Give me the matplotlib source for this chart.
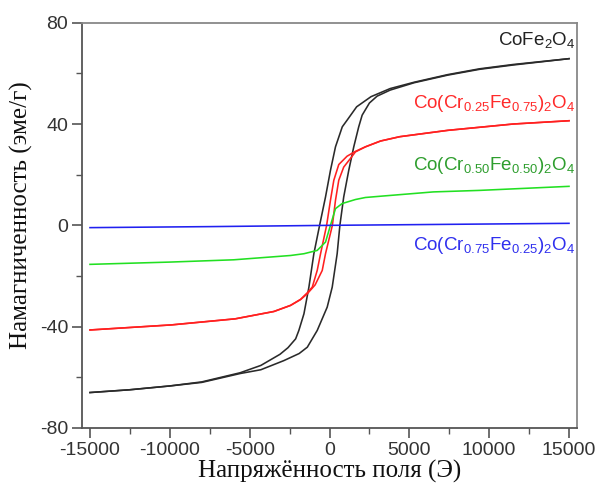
import matplotlib
matplotlib.use("Agg")
import matplotlib.pyplot as plt

# ---------------- data ----------------
# CoFe2O4, descending branch (from +15000 to -15000)
cofe_desc_h = [15000, 11500, 9400, 7400, 5300, 3800, 2600, 1700, 1100, 800, 375, 60,
               -250, -620, -980, -1290, -1600, -1920, -2120, -2600, -3100, -4300,
               -5600, -8000, -10000, -12500, -15000]
cofe_desc_m = [65.8, 63.5, 61.8, 59.5, 56.5, 54.0, 50.8, 46.8, 41.5, 38.9, 31.0, 21.7,
               11.2, 0.0, -11.2, -24.4, -34.9, -41.5, -44.8, -48.3, -50.9, -55.3,
               -58.2, -61.8, -63.4, -64.9, -66.0]
# CoFe2O4, ascending branch (from -15000 to +15000)
cofe_asc_h = [-15000, -12500, -10000, -8000, -5600, -4300, -2860, -1900, -1390, -770,
              -145, 170, 480, 650, 890, 1205, 1520, 1830, 2045, 2500, 2980, 3800,
              5300, 7400, 9400, 11500, 15000]
cofe_asc_m = [-66.0, -64.9, -63.4, -62.0, -58.5, -57.0, -53.4, -50.6, -48.1, -41.5,
              -32.3, -24.4, -11.2, 0.0, 11.2, 21.7, 31.0, 38.9, 43.5, 48.3, 51.0, 53.4,
              56.3, 59.3, 61.6, 63.3, 65.8]

# Co(Cr0.25Fe0.75)2O4
cr25_desc_h = [15000, 11500, 7400, 4400, 3200, 2250, 1625, 1100, 580, 270, 60, -180,
               -560, -770, -1080, -1390, -1810, -2440, -3480, -5900, -9900, -15000]
cr25_desc_m = [41.3, 40.0, 37.5, 35.0, 33.3, 31.0, 29.2, 27.3, 24.0, 17.8, 9.9, 0.0,
               -11.2, -17.8, -24.4, -26.6, -29.2, -31.6, -34.0, -36.9, -39.3, -41.3]
cr25_asc_h = [-15000, -9900, -5900, -3480, -2440, -1810, -1390, -900, -455, -250, 180,
              375, 580, 890, 1310, 1625, 2250, 3200, 4400, 7400, 11500, 15000]
cr25_asc_m = [-41.3, -39.3, -36.9, -34.0, -31.6, -29.3, -27.0, -23.5, -17.8, -11.2, 0.0,
              9.9, 17.8, 23.0, 26.4, 29.0, 31.0, 33.3, 35.0, 37.5, 40.0, 41.3]

# Co(Cr0.50Fe0.50)2O4
cr50_h = [-15000, -10000, -6000, -2440, -1600, -770, -250, 60, 375, 790, 1625, 2250,
          3200, 6500, 9400, 15000]
cr50_m = [-15.4, -14.5, -13.6, -11.9, -11.2, -9.9, -6.6, 0.0, 6.6, 8.6, 10.2, 11.0,
          11.5, 13.2, 13.8, 15.4]

# Co(Cr0.75Fe0.25)2O4
cr75_h = [-15000, -7500, 0, 7500, 15000]
cr75_m = [-0.9, -0.5, 0.0, 0.4, 0.8]

x_ticks = [-15000, -10000, -5000, 0, 5000, 10000, 15000]
y_ticks = [-80, -40, 0, 40, 80]

labels = ["CoFe$_2$O$_4$",
          "Co(Cr$_{0.25}$Fe$_{0.75}$)$_2$O$_4$",
          "Co(Cr$_{0.50}$Fe$_{0.50}$)$_2$O$_4$",
          "Co(Cr$_{0.75}$Fe$_{0.25}$)$_2$O$_4$"]
xlabel = "Напряжённость поля (Э)"
ylabel = "Намагниченность (эме/г)"

# ---------------- style ----------------
plt.rcParams['font.family'] = ['Liberation Sans', 'DejaVu Sans']
plt.rcParams['mathtext.fontset'] = 'custom'
plt.rcParams['mathtext.rm'] = 'Liberation Sans'
plt.rcParams['mathtext.it'] = 'Liberation Sans'
plt.rcParams['mathtext.bf'] = 'Liberation Sans'
plt.rcParams['axes.unicode_minus'] = False

c_black = '#2a2a2a'
c_red = '#ff2020'
c_green = '#22e022'
c_blue = '#2020f0'

fig = plt.figure(figsize=(5.99, 4.88), dpi=100)
ax = fig.add_axes([82 / 599, 1 - 428 / 488, 495 / 599, (428 - 22.7) / 488])

lw = 1.15
ax.plot(cofe_desc_h, cofe_desc_m, color=c_black, lw=lw)
ax.plot(cofe_asc_h, cofe_asc_m, color=c_black, lw=lw)
ax.plot(cr25_desc_h, cr25_desc_m, color=c_red, lw=lw)
ax.plot(cr25_asc_h, cr25_asc_m, color=c_red, lw=lw)
ax.plot(cr50_h, cr50_m, color=c_green, lw=lw)
ax.plot(cr75_h, cr75_m, color=c_blue, lw=lw)

ax.set_xlim(-15500, 15500)
ax.set_ylim(-80, 80)
ax.set_xticks(x_ticks)
ax.set_yticks(y_ticks)
ax.set_xticks([t + 2500 for t in x_ticks[:-1]], minor=True)
ax.set_yticks([t + 20 for t in y_ticks[:-1]], minor=True)
ax.tick_params(axis='both', which='major', direction='out', length=7, width=1.2,
               color='#555555', labelsize=14, labelcolor='#333333', pad=3)
ax.tick_params(axis='both', which='minor', direction='out', length=4, width=1.0,
               color='#555555')
ax.tick_params(top=False, right=False, which='both')
for s in ['left', 'bottom']:
    ax.spines[s].set_color('#555555')
    ax.spines[s].set_linewidth(1.3)
for s in ['top', 'right']:
    ax.spines[s].set_color('#888888')
    ax.spines[s].set_linewidth(1.3)

ax.set_xlabel(xlabel, family=['Liberation Serif', 'DejaVu Serif'], fontsize=18,
              color='#111111', labelpad=1)
ax.set_ylabel(ylabel, family=['Liberation Serif', 'DejaVu Serif'], fontsize=18,
              color='#111111')
ax.yaxis.set_label_coords(-0.098, 0.525)

lab_y = [0.945, 0.790, 0.637, 0.439]
lab_c = ['#222222', '#ff2a2a', '#2e9e2e', '#3030ee']
for t, y, c in zip(labels, lab_y, lab_c):
    ax.text(0.997, y, t, transform=ax.transAxes, ha='right', va='baseline',
            fontsize=13.5, color=c)

fig.savefig('out.png', dpi=100)
